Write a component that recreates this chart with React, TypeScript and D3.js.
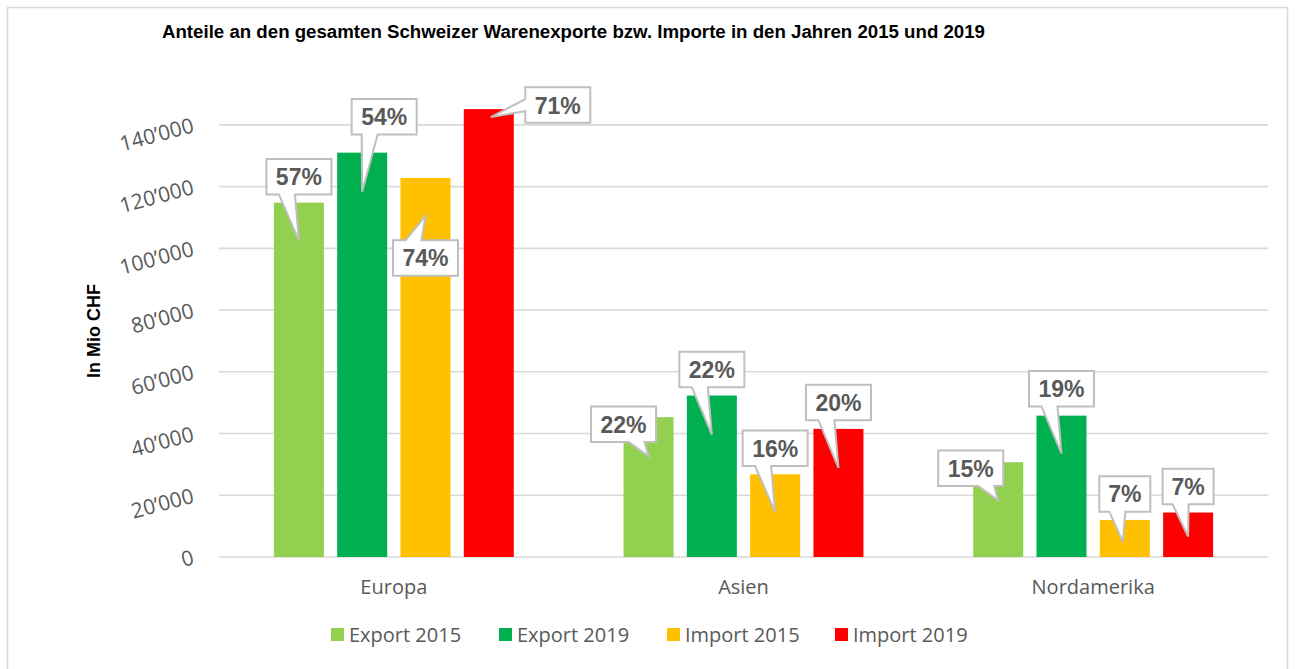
import React from 'react';
import * as d3 from 'd3';

// Regions (x axis) and series (legend)
const categories = ['Europa', 'Asien', 'Nordamerika'];
const seriesNames = ['Export 2015', 'Export 2019', 'Import 2015', 'Import 2019'];
const seriesColors = ['#92d050', '#00b050', '#ffc000', '#ff0000'];

// Values in Mio CHF, one array per series (order = categories)
const export2015 = [114800, 45300, 30700];
const export2019 = [131000, 52300, 45800];
const import2015 = [122800, 26800, 12000];
const import2019 = [145100, 41500, 14400];

// Share labels shown in the callouts
const share2015Export = ['57%', '22%', '15%'];
const share2019Export = ['54%', '22%', '19%'];
const share2015Import = ['74%', '16%', '7%'];
const share2019Import = ['71%', '20%', '7%'];

const yTicks = [0, 20000, 40000, 60000, 80000, 100000, 120000, 140000];

const seriesValues = [export2015, export2019, import2015, import2019];
const seriesLabels = [share2015Export, share2019Export, share2015Import, share2019Import];

// callout placement relative to the top centre of the bar: [boxDx, boxDy, tipDx, tipDy]
const calloutLayout = [
  [[0, -26, 0, 38], [22, -36, 0, 39], [0, 80, 0, 38], [69, -4, 2, 8]],
  [[-25, 7, 0, 39], [0, -26, 0, 39], [0, -26, 0, 38], [0, -26.5, 0, 39]],
  [[-27.5, 6, 0, 38], [0, -27, 0, 38], [0, -26, -2, 22], [0, -26, 0, 24]],
];

const W = 1295;
const H = 669;
const plot = { left: 219, right: 1268, top: 94, bottom: 557 };

const fmt = (v: number) => (v === 0 ? '0' : d3.format(',')(v).replace(/,/g, '\u2019'));

function calloutPath(l: number, t: number, r: number, b: number, tx: number, ty: number) {
  const clamp = (v: number, lo: number, hi: number) => Math.max(lo, Math.min(hi, v));
  if (ty > b) {
    const c = clamp(tx - 12, l + 18, r - 12);
    return `M${l},${t}L${r},${t}L${r},${b}L${c + 8},${b}L${tx},${ty}L${c - 8},${b}L${l},${b}Z`;
  }
  if (ty < t) {
    const c = clamp(tx - 12, l + 18, r - 12);
    return `M${l},${t}L${c - 8},${t}L${tx},${ty}L${c + 8},${t}L${r},${t}L${r},${b}L${l},${b}Z`;
  }
  const c = clamp(ty - 12, t + 8, b - 8);
  if (tx < l) {
    return `M${l},${t}L${r},${t}L${r},${b}L${l},${b}L${l},${c + 6}L${tx},${ty}L${l},${c - 6}Z`;
  }
  return `M${l},${t}L${r},${t}L${r},${c - 6}L${tx},${ty}L${r},${c + 6}L${r},${b}L${l},${b}Z`;
}

export default function App() {
  const x = d3.scaleBand<string>().domain(categories).range([plot.left, plot.right]);
  const xs = d3
    .scaleBand<string>()
    .domain(seriesNames)
    .range([0, x.bandwidth()])
    .paddingInner(0.21)
    .paddingOuter(0.867);
  const y = d3.scaleLinear().domain([0, 150000]).range([plot.bottom, plot.top]);

  const tickFont = '"Open Sans", sans-serif';
  const grey = '#595959';

  // legend layout
  const legendStep = 168;
  const legendStart = 331;

  return (
    <svg width={W} height={H} style={{ position: 'absolute', left: 0, top: 0, background: '#fff' }}>
      <rect x={7.5} y={7.5} width={1280} height={672} fill="#fff" stroke="#d9d9d9" strokeWidth={1.5} />

      <text
        x={162}
        y={38}
        textLength={823}
        lengthAdjust="spacingAndGlyphs"
        fontFamily='"Liberation Sans", Arial, sans-serif'
        fontWeight="bold"
        fontSize={17.5}
        fill="#000"
      >
        Anteile an den gesamten Schweizer Warenexporte bzw. Importe in den Jahren 2015 und 2019
      </text>

      {/* gridlines */}
      {yTicks.map((t) => (
        <line key={t} x1={plot.left} x2={plot.right} y1={y(t)} y2={y(t)} stroke="#d9d9d9" strokeWidth={1.6} />
      ))}

      {/* y tick labels, tilted */}
      {yTicks.map((t) => (
        <text
          key={'l' + t}
          transform={`translate(195,${y(t) + 7}) rotate(-15)`}
          textAnchor="end"
          fontFamily={tickFont}
          fontSize={21}
          fill={grey}
        >
          {fmt(t)}
        </text>
      ))}

      <text
        transform="translate(100,331) rotate(-90)"
        textAnchor="middle"
        fontFamily='"Liberation Sans", Arial, sans-serif'
        fontWeight="bold"
        fontSize={18}
        fill="#000"
      >
        In Mio CHF
      </text>

      {/* bars */}
      {categories.map((c, ci) =>
        seriesNames.map((s, si) => {
          const v = seriesValues[si][ci];
          return (
            <rect
              key={c + s}
              x={(x(c) as number) + (xs(s) as number)}
              y={y(v)}
              width={xs.bandwidth()}
              height={y(0) - y(v)}
              fill={seriesColors[si]}
            />
          );
        })
      )}

      {/* category labels */}
      {categories.map((c) => (
        <text
          key={'c' + c}
          x={(x(c) as number) + x.bandwidth() / 2}
          y={594}
          textAnchor="middle"
          fontFamily={tickFont}
          fontSize={20}
          fill={grey}
        >
          {c}
        </text>
      ))}

      {/* callouts */}
      {categories.map((c, ci) =>
        seriesNames.map((s, si) => {
          const v = seriesValues[si][ci];
          const label = seriesLabels[si][ci];
          const [bdx, bdy, tdx, tdy] = calloutLayout[ci][si];
          const bx = (x(c) as number) + (xs(s) as number) + xs.bandwidth() / 2;
          const by = y(v);
          const cx = bx + bdx;
          const cy = by + bdy;
          const w = 14 * label.length + 23;
          const h = 35.5;
          const l = cx - w / 2;
          const t = cy - h / 2;
          return (
            <g key={'co' + c + s}>
              <path
                d={calloutPath(l, t, l + w, t + h, bx + tdx, by + tdy)}
                fill="#fff"
                stroke="#bfbfbf"
                strokeWidth={2}
                strokeLinejoin="miter"
              />
              <text
                x={cx}
                y={cy + 8.5}
                textAnchor="middle"
                fontFamily='"Liberation Sans", Arial, sans-serif'
                fontWeight="bold"
                fontSize={23}
                fill={grey}
              >
                {label}
              </text>
            </g>
          );
        })
      )}

      {/* legend */}
      {seriesNames.map((s, i) => (
        <g key={'lg' + s} transform={`translate(${legendStart + i * legendStep},628)`}>
          <rect x={0} y={0} width={13} height={13} fill={seriesColors[i]} />
          <text x={18} y={14} fontFamily={tickFont} fontSize={20} fill={grey}>
            {s}
          </text>
        </g>
      ))}
    </svg>
  );
}
